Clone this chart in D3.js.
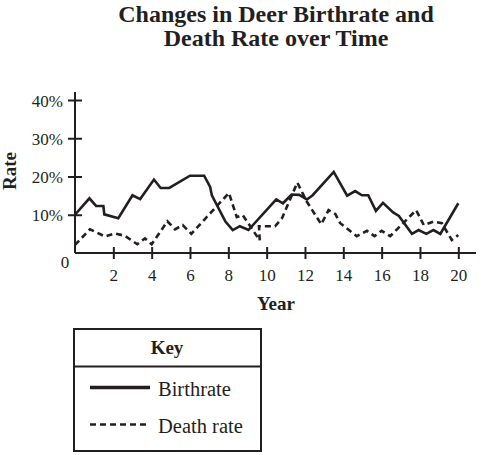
<!DOCTYPE html>
<html>
<head>
<meta charset="utf-8">
<script src="https://cdn.jsdelivr.net/npm/d3@7"></script>
<style>
  html, body { margin: 0; padding: 0; background: #fff; }
  svg { display: block; }
  svg text { font-family: "Liberation Serif", "Times New Roman", serif !important; fill: #231f20; }
</style>
</head>
<body>
<script>
// ---- data ----
const titleLines = ["Changes in Deer Birthrate and", "Death Rate over Time"];
const xTicks = [2, 4, 6, 8, 10, 12, 14, 16, 18, 20];
const yTicks = [10, 20, 30, 40];
const birthYears = [0, 0.75, 1.1, 1.48, 1.53, 2.26, 3.0, 3.4, 4.12, 4.47, 4.92, 6.0, 6.74, 7.05, 7.14, 7.85, 8.23, 8.6, 9.05, 10.5, 10.85, 11.3, 11.7, 12.1, 12.4, 13.5, 14.2, 14.62, 14.97, 15.3, 15.7, 16.07, 16.6, 16.9, 17.58, 17.93, 18.33, 18.7, 19.06, 20.0];
const birthRates = [10, 14.3, 12.3, 12.3, 10.1, 9.1, 15.1, 14.1, 19.2, 17, 17, 20.2, 20.2, 17.3, 15.1, 8.2, 6, 7, 6, 14, 13, 15.3, 15.2, 14, 15.1, 21.2, 15, 16.2, 15.1, 15.1, 11, 13.1, 10.6, 9.7, 5, 6, 5, 6, 5, 13];
const deathYears = [0, 0.78, 1.57, 2.09, 2.6, 3.25, 3.65, 4.0, 4.82, 5.22, 5.62, 6.07, 8.03, 8.44, 8.75, 9.64, 9.6, 10.44, 10.8, 11.6, 12.1, 12.85, 13.23, 13.58, 13.84, 14.7, 15.23, 15.63, 16.0, 16.45, 17.8, 18.2, 18.7, 19.14, 19.66, 20.0];
const deathRates = [2.1, 6.2, 4.3, 5.1, 4.5, 2.3, 3.8, 2.3, 8.3, 6.2, 7.3, 5.0, 15.7, 9.4, 9.9, 3.3, 7, 7, 9.1, 18.4, 13.4, 7.5, 11.2, 10.2, 7.8, 4.4, 5.8, 4.4, 5.8, 4.4, 11.2, 7.3, 8.2, 7.8, 3.4, 4.7];
const legendLabels = ["Birthrate", "Death rate"];

const W = 485, H = 455;
const FONT = "'Liberation Serif', 'Times New Roman', serif";
const svg = d3.select("body").append("svg").attr("width", W).attr("height", H)
  .attr("font-family", FONT);

const x = d3.scaleLinear().domain([0, 20]).range([75, 458.3]);
const y = d3.scaleLinear().domain([0, 40]).range([253, 100]);
const ink = "#231f20";

// title
svg.append("text")
  .attr("text-anchor", "middle")
  .style("font-weight", "bold").style("font-size", "24px")
  .selectAll("tspan").data(titleLines).join("tspan")
  .attr("x", 276).attr("y", (d, i) => 22 + i * 24).text(d => d);

// axis lines
svg.append("line").attr("x1", x(0)).attr("x2", 476).attr("y1", y(0)).attr("y2", y(0))
  .attr("stroke", ink).attr("stroke-width", 2);
svg.append("line").attr("x1", x(0)).attr("x2", x(0)).attr("y1", 92).attr("y2", y(0))
  .attr("stroke", ink).attr("stroke-width", 2);

// x axis
const xAxis = svg.append("g").attr("transform", `translate(0,${y(0)})`)
  .call(d3.axisBottom(x).tickValues(xTicks).tickSize(6).tickSizeOuter(0).tickFormat(d3.format("d")))
  .attr("font-family", FONT).attr("font-size", 17);
xAxis.select(".domain").remove();
xAxis.selectAll(".tick line").attr("y1", -6).attr("y2", 6).attr("stroke", ink).attr("stroke-width", 2);
xAxis.selectAll(".tick text").attr("y", 28).attr("dy", null).attr("fill", ink);

// y axis
const yAxis = svg.append("g").attr("transform", `translate(${x(0)},0)`)
  .call(d3.axisLeft(y).tickValues(yTicks).tickSize(7).tickSizeOuter(0).tickFormat(d => d + "%"))
  .attr("font-family", FONT).attr("font-size", 17);
yAxis.select(".domain").remove();
yAxis.selectAll(".tick line").attr("x1", -7).attr("x2", 7).attr("stroke", ink).attr("stroke-width", 2);
yAxis.selectAll(".tick text").attr("x", -12).attr("dy", "0.36em").attr("fill", ink);

// origin label
svg.append("text").attr("x", 65).attr("y", 268).attr("text-anchor", "middle")
  .style("font-size", "17px").text("0");

// axis titles
svg.append("text").attr("x", 276).attr("y", 310).attr("text-anchor", "middle")
  .style("font-weight", "bold").style("font-size", "19px").text("Year");
svg.append("text").attr("transform", "translate(16,171) rotate(-90)").attr("text-anchor", "middle")
  .style("font-weight", "bold").style("font-size", "19px").text("Rate");

// lines
const birth = birthYears.map((d, i) => [d, birthRates[i]]);
const death = deathYears.map((d, i) => [d, deathRates[i]]);
const line = d3.line().x(d => x(d[0])).y(d => y(d[1]));
svg.append("path").attr("d", line(birth)).attr("fill", "none").attr("stroke", ink)
  .attr("stroke-width", 2.6).attr("stroke-linejoin", "miter");
svg.append("path").attr("d", line(death)).attr("fill", "none").attr("stroke", ink)
  .attr("stroke-width", 2.6).attr("stroke-dasharray", "6,4");

// legend
const lg = svg.append("g");
lg.append("rect").attr("x", 74).attr("y", 329).attr("width", 187).attr("height", 122)
  .attr("fill", "none").attr("stroke", ink).attr("stroke-width", 2);
lg.append("line").attr("x1", 74).attr("x2", 261).attr("y1", 366.5).attr("y2", 366.5)
  .attr("stroke", ink).attr("stroke-width", 2);
lg.append("text").attr("x", 167).attr("y", 354).attr("text-anchor", "middle")
  .style("font-weight", "bold").style("font-size", "19px").text("Key");
const items = lg.selectAll("g.item").data(legendLabels).join("g").attr("class", "item")
  .attr("transform", (d, i) => `translate(0,${387.5 + i * 37})`);
items.append("line").attr("x1", 90).attr("x2", 150).attr("y1", 0).attr("y2", 0)
  .attr("stroke", ink).attr("stroke-width", (d, i) => i === 0 ? 3.3 : 2.4)
  .attr("stroke-dasharray", (d, i) => i === 0 ? null : "6,4");
items.append("text").attr("x", 158).attr("y", 8).style("font-size", "20.5px").text(d => d);
</script>
</body>
</html>
